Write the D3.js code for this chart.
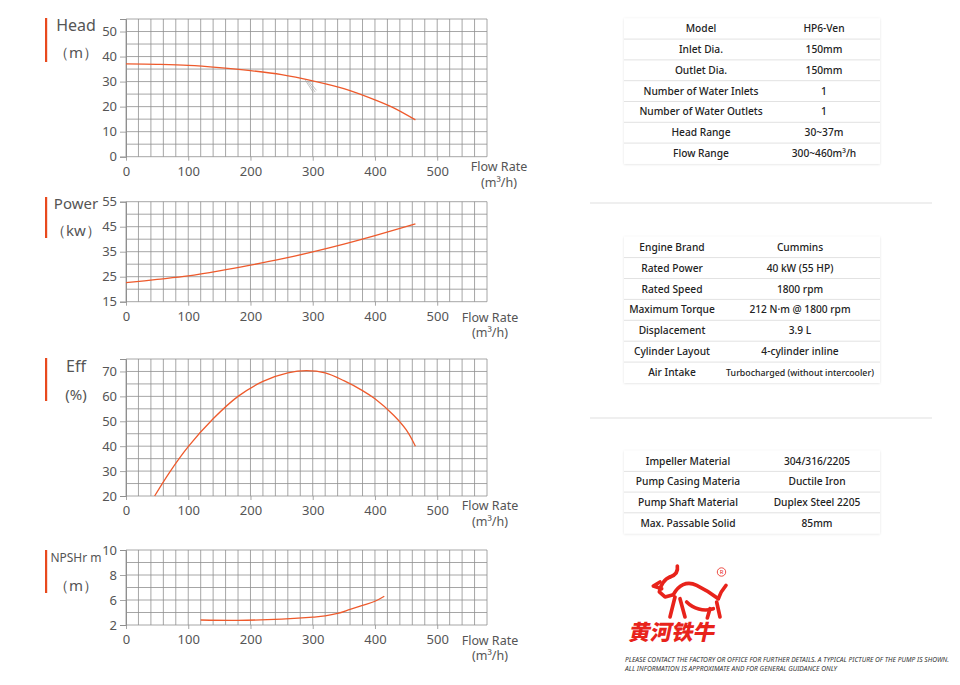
<!DOCTYPE html>
<html><head><meta charset="utf-8">
<script src="https://cdn.jsdelivr.net/npm/d3@7"></script>
<style>body{margin:0;background:#fff;} svg{display:block;font-family:"Noto Sans",sans-serif;}</style>
</head><body><svg id="c" width="960" height="685"></svg>
<script>
// ---------- data ----------
const flowTicks = [0,100,200,300,400,500];
const headFlow = [0,50,100,150,200,250,300,350,400,430,465];
const headVals = [37.1,36.9,36.5,35.6,34.4,32.8,30.3,27.2,22.7,19.5,14.7];
const headTicks = [0,10,20,30,40,50];
const powerFlow = [0,50,100,150,200,250,300,350,400,465];
const powerVals = [22.6,23.9,25.3,27.3,29.6,32.1,34.9,38.0,41.4,46.1];
const powerTicks = [15,25,35,45,55];
const effFlow = [46,70,100,140,180,220,260,290,320,350,380,400,430,450,465];
const effVals = [20,29.5,39.8,51,60,66,69.4,70.3,69.4,66.3,62.3,59,52.4,46.6,40];
const effTicks = [20,30,40,50,60,70];
const npshFlow = [120,180,250,300,320,340,360,380,400,415];
const npshVals = [2.8,2.75,2.95,3.25,3.45,3.85,4.5,5.15,5.8,6.3];
const npshTicks = [2,6,8,10];
const hatchFrom = [[288,30.6],[291,30.3],[294,30.1]];
const hatchTo = [[301,25.6],[304,25.8],[306,26.5]];

const spec1Labels = ["Model","Inlet Dia.","Outlet Dia.","Number of Water Inlets","Number of Water Outlets","Head Range","Flow Range"];
const spec1Values = ["HP6-Ven","150mm","150mm","1","1","30~37m","300~460m³/h"];
const spec2Labels = ["Engine Brand","Rated Power","Rated Speed","Maximum Torque","Displacement","Cylinder Layout","Air Intake"];
const spec2Values = ["Cummins","40 kW (55 HP)","1800 rpm","212 N·m @ 1800 rpm","3.9 L","4-cylinder inline","Turbocharged (without intercooler)"];
const spec3Labels = ["Impeller Material","Pump Casing Materia","Pump Shaft Material","Max. Passable Solid"];
const spec3Values = ["304/316/2205","Ductile Iron","Duplex Steel 2205","85mm"];

const svg = d3.select("#c");
const ORANGE = "#ee5a2c", BAR = "#e8491d", GRID = "#8f8f8f", TXT = "#555";

const x = d3.scaleLinear().domain([0,580]).range([126,487]);

const charts = [
  {flow:headFlow, vals:headVals, ticks:headTicks, y:d3.scaleLinear().domain([0,55]).range([156.7,19]),
   grid:d3.range(0,56,5), t1:"Head", t2:"（m）", t1y:25, t2y:53, t1s:16, bar:[18,62], fr:[10,25.5], fx:499},
  {flow:powerFlow, vals:powerVals, ticks:powerTicks, y:d3.scaleLinear().domain([15,55]).range([301.7,201.7]),
   grid:d3.range(15,56,5), t1:"Power", t2:"（kw）", t1y:204, t2y:231, t1s:15, bar:[197,238], fr:[15.5,31], fx:490},
  {flow:effFlow, vals:effVals, ticks:effTicks, y:d3.scaleLinear().domain([20,75]).range([496,359]),
   grid:d3.range(20,76,5), t1:"Eff", t2:"(%)", t1y:366, t2y:395, t1s:16, bar:[358,401], fr:[10,25.5], fx:490},
  {flow:npshFlow, vals:npshVals, ticks:npshTicks, y:d3.scaleLinear().domain([2,6,8,10]).range([625,600,575,550]),
   grid:[2,4,6,7,8,9,10], t1:"NPSHr m", t2:"（m）", t1y:558, t2y:586, t1s:12, bar:[550,593], fr:[15.5,31], fx:490}
];

charts.forEach((c,i)=>{
  const g = svg.append("g");
  const r = c.y.range();
  const y0 = r[0], y1 = r[r.length-1];
  g.selectAll(".vg").data(d3.range(0,581,20)).join("line")
    .attr("x1",d=>x(d)).attr("x2",d=>x(d)).attr("y1",y1).attr("y2",y0)
    .attr("stroke",GRID).attr("stroke-width",0.8);
  g.selectAll(".hg").data(c.grid).join("line")
    .attr("x1",x(0)).attr("x2",x(580)).attr("y1",d=>c.y(d)).attr("y2",d=>c.y(d))
    .attr("stroke",GRID).attr("stroke-width",0.8);
  const ya = g.append("g").attr("transform",`translate(${x(0)},0)`)
    .call(d3.axisLeft(c.y).tickValues(c.ticks).tickSize(6).tickPadding(3).tickFormat(d3.format("d")));
  ya.select(".domain").attr("stroke",GRID);
  ya.selectAll(".tick line").attr("stroke",GRID).attr("stroke-width",0.8);
  ya.selectAll("text").attr("fill",TXT).style("font-size","13px").style("font-family","Noto Sans");
  const xa = g.append("g").attr("transform",`translate(0,${y0})`)
    .call(d3.axisBottom(x).tickValues(flowTicks).tickSize(4).tickPadding(6).tickFormat(d3.format("d")));
  xa.select(".domain").remove();
  xa.selectAll(".tick line").attr("stroke",GRID).attr("stroke-width",0.8);
  xa.selectAll("text").attr("fill",TXT).style("font-size","13px").style("font-family","Noto Sans");
  g.append("text").attr("x",c.fx).attr("y",y0+c.fr[0]).attr("dy","0.35em").attr("text-anchor","middle")
    .attr("fill",TXT).style("font-size","12.5px").text("Flow Rate");
  g.append("text").attr("x",c.fx).attr("y",y0+c.fr[1]).attr("dy","0.35em").attr("text-anchor","middle")
    .attr("fill",TXT).style("font-size","12.5px").text("(m³/h)");
  g.append("rect").attr("x",45).attr("y",c.bar[0]).attr("width",2.2).attr("height",c.bar[1]-c.bar[0]).attr("fill",BAR);
  g.append("text").attr("x",76).attr("y",c.t1y).attr("dy","0.35em").attr("text-anchor","middle")
    .attr("fill",TXT).style("font-size",c.t1s+"px").text(c.t1);
  g.append("text").attr("x",76).attr("y",c.t2y).attr("dy","0.35em").attr("text-anchor","middle")
    .attr("fill",TXT).style("font-size","15px").text(c.t2);
  const line = d3.line().x(d=>x(d[0])).y(d=>c.y(d[1])).curve(d3.curveCatmullRom.alpha(0.5));
  g.append("path").datum(c.flow.map((f,k)=>[f,c.vals[k]])).attr("d",line)
    .attr("fill","none").attr("stroke",ORANGE).attr("stroke-width",1.3);
  if(i===0){
    g.selectAll(".hatch").data(hatchFrom).join("line")
      .attr("x1",d=>x(d[0])).attr("y1",d=>c.y(d[1]))
      .attr("x2",(d,k)=>x(hatchTo[k][0])).attr("y2",(d,k)=>c.y(hatchTo[k][1]))
      .attr("stroke","#999").attr("stroke-width",0.6);
  }
});

// ---------- tables ----------
const defs = svg.append("defs");
const f = defs.append("filter").attr("id","sh").attr("x","-5%").attr("y","-5%").attr("width","110%").attr("height","110%");
f.append("feDropShadow").attr("dx",0).attr("dy",0.5).attr("stdDeviation",1.2).attr("flood-color","#000").attr("flood-opacity",0.12);

function table(labels, values, top, rowH, lc, vc){
  const g = svg.append("g");
  const left=624, right=880, n=labels.length;
  g.append("rect").attr("x",left).attr("y",top).attr("width",right-left).attr("height",n*rowH)
    .attr("fill","#fff").attr("filter","url(#sh)");
  g.selectAll(".sep").data(d3.range(1,n)).join("line")
    .attr("x1",left).attr("x2",right).attr("y1",d=>top+d*rowH).attr("y2",d=>top+d*rowH)
    .attr("stroke","#e2e2e2").attr("stroke-width",1);
  g.selectAll(".lb").data(labels).join("text")
    .attr("x",lc).attr("y",(d,k)=>top+(k+0.5)*rowH).attr("dy","0.35em").attr("text-anchor","middle")
    .attr("fill","#222").style("font-size","10.2px").style("font-weight","500").text(d=>d);
  g.selectAll(".vl").data(values).join("text")
    .attr("x",vc).attr("y",(d,k)=>top+(k+0.5)*rowH).attr("dy","0.35em").attr("text-anchor","middle")
    .attr("fill","#222").style("font-size",d=>d.length>25?"8.8px":"10.2px").style("font-weight","500").text(d=>d);
}
table(spec1Labels, spec1Values, 18.3, 20.8, 701, 824);
table(spec2Labels, spec2Values, 236.7, 20.9, 672, 800);
table(spec3Labels, spec3Values, 450.7, 20.7, 688, 817);

[203,418].forEach(yy=>svg.append("line").attr("x1",590).attr("x2",932).attr("y1",yy).attr("y2",yy)
  .attr("stroke","#efefef").attr("stroke-width",2));

// ---------- logo ----------
const RED = "#e8231b";
const lg = svg.append("g").attr("transform","translate(620,562) scale(0.3333)");
const strokes = [
  "M120,60 L100,72 L125,80",
  "M150,45 C135,50 120,70 118,90 L135,105 L160,98",
  "M150,45 C165,40 175,30 172,12",
  "M160,98 C175,70 200,55 230,70 C255,82 275,95 295,110",
  "M295,110 C300,95 305,85 318,70",
  "M165,105 L150,165", "M180,110 L195,165",
  "M200,120 C220,140 250,150 280,140",
  "M270,140 L262,168", "M290,120 L300,165"
];
lg.selectAll("path").data(strokes).join("path").attr("d",d=>d)
  .attr("fill","none").attr("stroke",RED).attr("stroke-width",11).attr("stroke-linecap","round").attr("stroke-linejoin","round");
svg.append("circle").attr("cx",721.5).attr("cy",572).attr("r",4.2).attr("fill","none").attr("stroke",RED).attr("stroke-width",0.8);
svg.append("text").attr("x",721.5).attr("y",572).attr("dy","0.35em").attr("text-anchor","middle")
  .attr("fill",RED).style("font-size","6px").text("R");
svg.append("text").attr("transform","translate(628,640) skewX(-12)")
  .attr("fill",RED).style("font-family","Noto Sans CJK SC").style("font-weight","900").style("font-size","21.5px")
  .text("黄河铁牛");

// ---------- footer ----------
svg.append("text").attr("x",625).attr("y",662).attr("textLength",324).attr("lengthAdjust","spacingAndGlyphs")
  .attr("fill","#333").style("font-size","6.5px").style("font-style","italic")
  .text("PLEASE CONTACT THE FACTORY OR OFFICE FOR FURTHER DETAILS. A TYPICAL PICTURE OF THE PUMP IS SHOWN.");
svg.append("text").attr("x",625).attr("y",671).attr("textLength",212).attr("lengthAdjust","spacingAndGlyphs")
  .attr("fill","#333").style("font-size","6.5px").style("font-style","italic")
  .text("ALL INFORMATION IS APPROXIMATE AND FOR GENERAL GUIDANCE ONLY");
</script></body></html>
